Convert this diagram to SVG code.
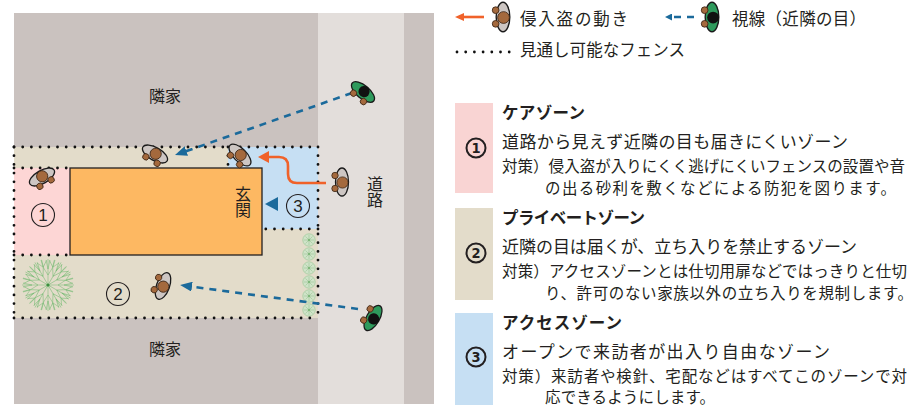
<svg xmlns="http://www.w3.org/2000/svg" width="923" height="405" viewBox="0 0 923 405">
  <style>
    text { font-family: "Noto Sans CJK JP", "Noto Sans", sans-serif; fill: #231f20; }
    .lbl { font-size: 16px; }
    .vert { font-size: 16px; writing-mode: vertical-rl; letter-spacing: 0px; }
    .legend { font-size: 16.5px; }
    .ttl { font-size: 16.5px; font-weight: bold; }
    .sub { font-size: 17px; }
    .note { font-size: 15.5px; }
    .fence { fill: none; stroke: #111; stroke-width: 2.8; stroke-linecap: round; stroke-dasharray: 0 8.7; }
    .sight { fill: none; stroke: #1b6a9b; stroke-width: 2.6; stroke-dasharray: 7 6; }
    .route { fill: none; stroke: #f0622a; stroke-width: 2.6; }
    .ring { fill: none; stroke: #231f20; stroke-width: 1.1; }
    .ringnum { font-size: 17px; text-anchor: middle; font-family: "Liberation Sans", sans-serif; }
    .badge { fill: none; stroke: #231f20; stroke-width: 2; }
    .badgenum { font-size: 14.5px; font-weight: bold; text-anchor: middle; font-family: "DejaVu Sans Condensed", "Liberation Sans", sans-serif; }
    .skin { fill: #a4693d; stroke: #3a2414; stroke-width: 0.8; }
  </style>
  <defs>
    <marker id="headBlue" viewBox="0 0 12 10" refX="1" refY="5" markerWidth="12" markerHeight="10" markerUnits="userSpaceOnUse" orient="auto">
      <path d="M0,0 L12,5 L0,10 Z" fill="#1b6a9b"/>
    </marker>
    <marker id="headOrange" viewBox="0 0 11 12" refX="1" refY="6" markerWidth="11" markerHeight="12" markerUnits="userSpaceOnUse" orient="auto">
      <path d="M0,0 L11,6 L0,12 Z" fill="#f0622a"/>
    </marker>
    <marker id="headOrangeSmall" viewBox="0 0 9 8" refX="1" refY="4" markerWidth="9" markerHeight="8" markerUnits="userSpaceOnUse" orient="auto">
      <path d="M0,0 L9,4 L0,8 Z" fill="#f0622a"/>
    </marker>
    <marker id="headBlueSmall" viewBox="0 0 7 7" refX="1" refY="3.5" markerWidth="7" markerHeight="7" markerUnits="userSpaceOnUse" orient="auto">
      <path d="M0,0 L7,3.5 L0,7 Z" fill="#1b6a9b"/>
    </marker>
    <!-- intruder seen from above, facing -x -->
    <g id="thief">
      <ellipse rx="6.5" ry="14" fill="#cdc6c3" stroke="#1a1a1a" stroke-width="1.3"/>
      <circle cx="-7" cy="-6.5" r="3.2" class="skin"/>
      <circle cx="-7" cy="6.5" r="3.2" class="skin"/>
      <circle cx="0.5" cy="0.5" r="5.6" class="skin"/>
    </g>
    <!-- neighbour seen from above, facing -x -->
    <g id="watcher">
      <ellipse rx="6.5" ry="14" fill="#2e9a5c" stroke="#1a1a1a" stroke-width="1.3"/>
      <circle cx="-7" cy="-6.5" r="3.2" class="skin"/>
      <circle cx="-7" cy="6.5" r="3.2" class="skin"/>
      <circle cx="1" cy="0.5" r="5.6" fill="#111"/>
    </g>
    <path id="twig" d="M0,0 L26,0 M10,0 L18,-5 L25,-7 M10,0 L18,5 L25,7 M18,-5 L22,-11 M18,5 L22,11 M16,0 L25,-2 M16,0 L25,2"/>
    <g id="shrub">
      <circle r="6.2" fill="#cfe3c8" stroke="#a5cb9e" stroke-width="0.8"/>
      <path d="M0,-5 V5 M-5,0 H5 M-3.5,-3.5 L3.5,3.5 M-3.5,3.5 L3.5,-3.5" stroke="#9bc594" stroke-width="0.6"/>
      <circle r="1.2" fill="#7fb87a"/>
    </g>
  </defs>

  <!-- site plan -->
  <g id="plan">
    <rect x="14" y="13" width="420" height="391" fill="#cac2bf"/>
    <rect x="318" y="13" width="86" height="391" fill="#e3dedb"/>
    <rect x="14" y="147" width="304" height="171" fill="#e3dcca"/>
    <rect x="14" y="168" width="56" height="87" fill="#fdd6d5"/>
    <path d="M228,147 H318 V229 H262 V168 H228 Z" fill="#c6dff3"/>
  </g>

  <g id="house">
    <rect x="70" y="168" width="192" height="87" fill="#fdb862" stroke="#231f20" stroke-width="1.3"/>
    <text class="vert" x="243" y="186">玄関</text>
  </g>

  <g id="labels">
    <text class="lbl" x="165" y="102" text-anchor="middle">隣家</text>
    <text class="lbl" x="165" y="355" text-anchor="middle">隣家</text>
    <text class="vert" x="375" y="176">道路</text>
  </g>

  <g id="tree" stroke="#62b464" stroke-width="0.45" fill="none">
    <use href="#twig" transform="translate(48,285) rotate(0)"/>
    <use href="#twig" transform="translate(48,285) rotate(30)"/>
    <use href="#twig" transform="translate(48,285) rotate(60)"/>
    <use href="#twig" transform="translate(48,285) rotate(90)"/>
    <use href="#twig" transform="translate(48,285) rotate(120)"/>
    <use href="#twig" transform="translate(48,285) rotate(150)"/>
    <use href="#twig" transform="translate(48,285) rotate(180)"/>
    <use href="#twig" transform="translate(48,285) rotate(210)"/>
    <use href="#twig" transform="translate(48,285) rotate(240)"/>
    <use href="#twig" transform="translate(48,285) rotate(270)"/>
    <use href="#twig" transform="translate(48,285) rotate(300)"/>
    <use href="#twig" transform="translate(48,285) rotate(330)"/>
    <circle cx="48" cy="285" r="1.6" fill="#3a8f3e" stroke="none"/>
  </g>

  <g id="hedge">
    <use href="#shrub" x="309" y="240"/>
    <use href="#shrub" x="309" y="254"/>
    <use href="#shrub" x="309" y="268"/>
    <use href="#shrub" x="309" y="282"/>
    <use href="#shrub" x="309" y="296"/>
    <use href="#shrub" x="309" y="310"/>
  </g>

  <!-- see-through fences -->
  <g id="fences">
    <path class="fence" d="M14,147 H318"/>
    <path class="fence" d="M14,318 H318"/>
    <path class="fence" d="M14,147 V318"/>
    <path class="fence" d="M318,147 V318"/>
    <path class="fence" d="M14,168 H70"/>
    <path class="fence" d="M14,255 H70"/>
    <path class="fence" d="M228,147 V168"/>
    <path class="fence" d="M318,229 H262"/>
  </g>

  <g id="zone-marks">
    <circle class="ring" cx="43" cy="215" r="11.5"/>
    <text class="ringnum" x="43" y="221">1</text>
    <circle class="ring" cx="118" cy="294" r="11.5"/>
    <text class="ringnum" x="118" y="300">2</text>
    <circle class="ring" cx="298" cy="206" r="11.5"/>
    <text class="ringnum" x="298" y="212">3</text>
    <path d="M265,204 L278,197 L278,211 Z" fill="#1b6a9b"/>
  </g>

  <!-- connectors -->
  <g id="connectors">
    <path class="sight" d="M352,93 L185.4,151.4" marker-end="url(#headBlue)"/>
    <path class="sight" d="M358,309 L191,286.5" marker-end="url(#headBlue)"/>
    <path class="route" d="M326,183 H297 Q288,183 288,174 V166 Q288,157 279,157 H268" marker-end="url(#headOrange)"/>
  </g>

  <g id="people">
    <use href="#thief" transform="translate(42,177) rotate(240)"/>
    <use href="#thief" transform="translate(155,154) rotate(-60)"/>
    <use href="#thief" transform="translate(240,155) rotate(-45)"/>
    <use href="#thief" transform="translate(342,182)"/>
    <use href="#thief" transform="translate(163,286) rotate(20)"/>
    <use href="#watcher" transform="translate(363,92) rotate(-50)"/>
    <use href="#watcher" transform="translate(373,318) rotate(30)"/>
  </g>

  <!-- legend -->
  <g id="legend">
    <path class="route" stroke-width="2" d="M484,17 H463" marker-end="url(#headOrangeSmall)"/>
    <use href="#thief" transform="translate(503,17) scale(1.05)"/>
    <text class="legend" x="520" y="25" textLength="108">侵入盗の動き</text>
    <path class="sight" stroke-width="2" stroke-dasharray="6 4" d="M694,17 H671" marker-end="url(#headBlueSmall)"/>
    <use href="#watcher" transform="translate(712,17) scale(1.05)"/>
    <text class="legend" x="732" y="25" textLength="134">視線（近隣の目）</text>
    <path class="fence" stroke-width="2.4" stroke-dasharray="0 8.8" d="M457,52 H511"/>
    <text class="legend" x="520" y="56" textLength="165">見通し可能なフェンス</text>
  </g>

  <g id="zone-care">
    <rect x="455" y="103" width="38" height="90" fill="#f9d4d3"/>
    <circle class="badge" cx="476" cy="148" r="9.5"/>
    <text class="badgenum" x="476" y="153">1</text>
    <text class="ttl" x="502" y="119" textLength="83">ケアゾーン</text>
    <text class="sub" x="502" y="148" textLength="346">道路から見えず近隣の目も届きにくいゾーン</text>
    <text class="note" x="502" y="172" textLength="403">対策）侵入盗が入りにくく逃げにくいフェンスの設置や音</text>
    <text class="note" x="545" y="194" textLength="351">の出る砂利を敷くなどによる防犯を図ります。</text>
  </g>

  <g id="zone-private">
    <rect x="455" y="208" width="38" height="92" fill="#e3dcca"/>
    <circle class="badge" cx="476" cy="253" r="9.5"/>
    <text class="badgenum" x="476" y="258">2</text>
    <text class="ttl" x="502" y="224" textLength="143">プライベートゾーン</text>
    <text class="sub" x="502" y="253" textLength="355">近隣の目は届くが、立ち入りを禁止するゾーン</text>
    <text class="note" x="502" y="277" textLength="405">対策）アクセスゾーンとは仕切用扉などではっきりと仕切</text>
    <text class="note" x="545" y="299" textLength="368">り、許可のない家族以外の立ち入りを規制します。</text>
  </g>

  <g id="zone-access">
    <rect x="455" y="313" width="38" height="92" fill="#c6dff3"/>
    <circle class="badge" cx="476" cy="357" r="9.5"/>
    <text class="badgenum" x="476" y="362">3</text>
    <text class="ttl" x="502" y="329" textLength="120">アクセスゾーン</text>
    <text class="sub" x="502" y="358" textLength="328">オープンで来訪者が出入り自由なゾーン</text>
    <text class="note" x="502" y="382" textLength="405">対策）来訪者や検針、宅配などはすべてこのゾーンで対</text>
    <text class="note" x="545" y="403" textLength="170">応できるようにします。</text>
  </g>
</svg>
